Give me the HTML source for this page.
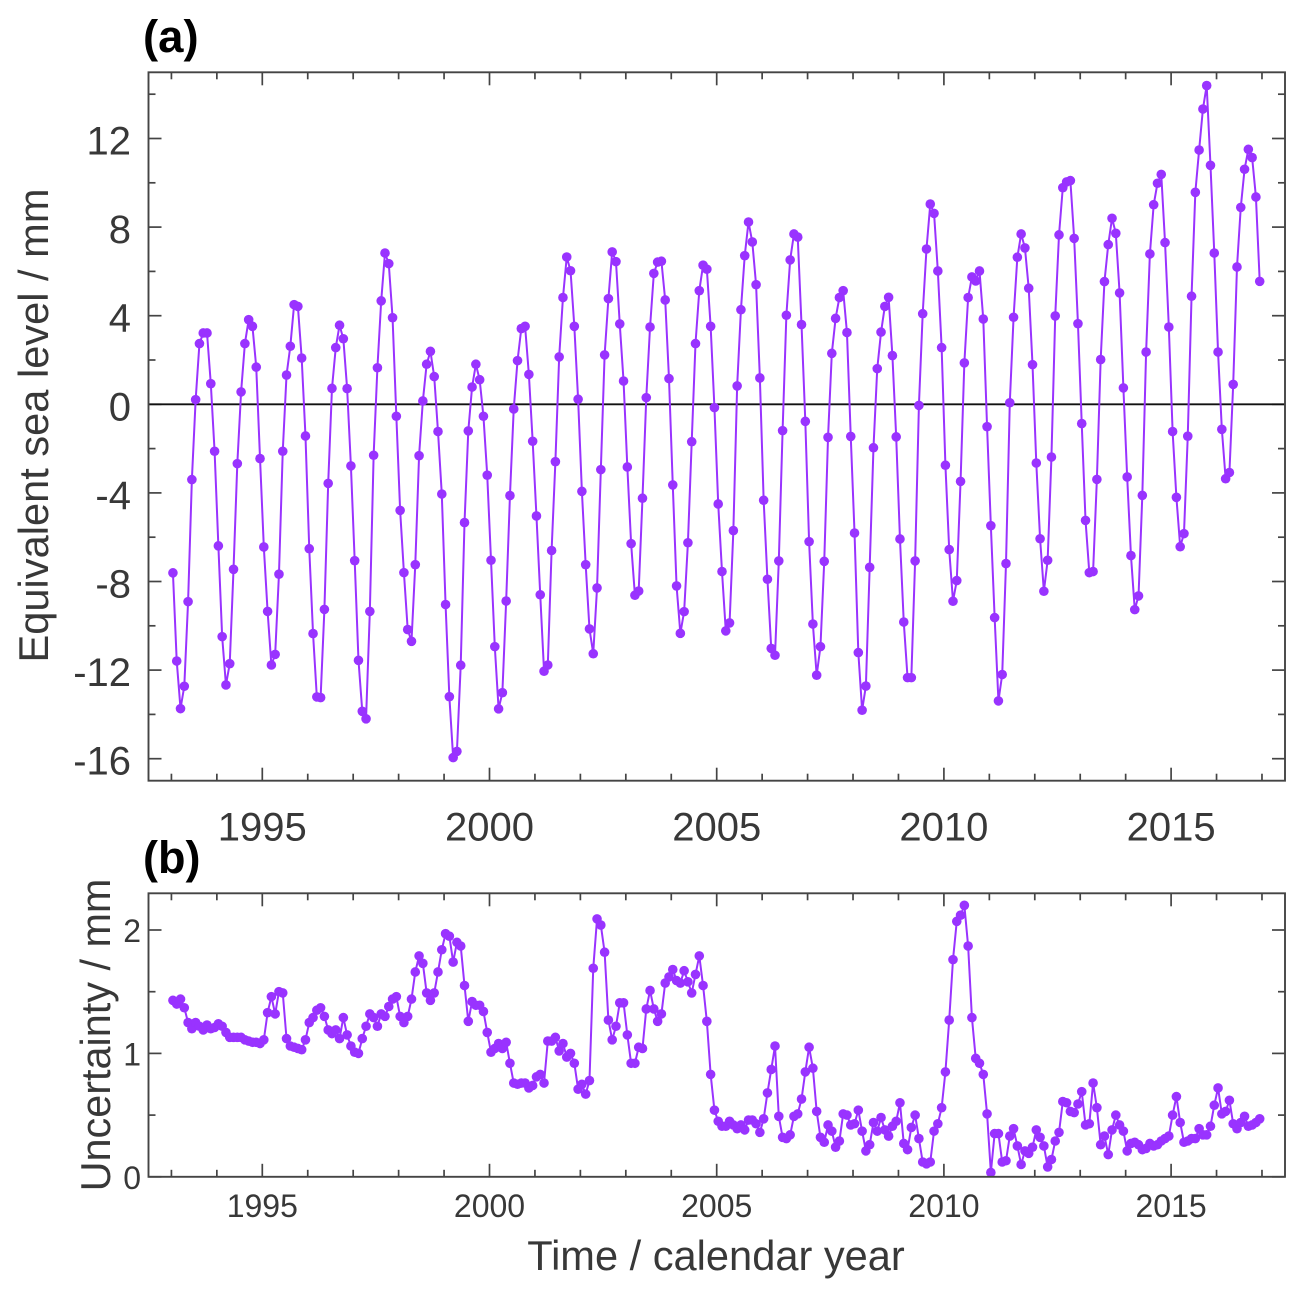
<!DOCTYPE html>
<html lang="en">
<head>
<meta charset="utf-8">
<title>Equivalent sea level and uncertainty</title>
<style>
html,body{margin:0;padding:0;background:#fff;width:1304px;height:1297px;overflow:hidden}
svg{display:block;font-family:"Liberation Sans",Arial,sans-serif}
</style>
</head>
<body>
<svg id="chart" width="1304" height="1297" viewBox="0 0 1304 1297" xmlns="http://www.w3.org/2000/svg">
  <rect width="1304" height="1297" fill="#fff"/>
  <text x="143" y="52" font-size="45.5" font-weight="bold" fill="#000">(a)</text>
  <text x="143" y="873" font-size="45" font-weight="bold" fill="#000">(b)</text>
  <text transform="translate(48,425.5) rotate(-90)" text-anchor="middle" font-size="41.6" fill="#383838">Equivalent sea level / mm</text>
  <text transform="translate(110,1035) rotate(-90)" text-anchor="middle" font-size="41.4" fill="#383838">Uncertainty / mm</text>
  <text x="716" y="1270" text-anchor="middle" font-size="41.6" fill="#383838">Time / calendar year</text>
  <g id="panel-a"></g>
  <g id="panel-b"></g>
</svg>
<script>
var startYear = 1993;
var monthsPerYear = 12;
var xMajorTicks = [1995, 2000, 2005, 2010, 2015];
var xMinorTicks = [1993, 1994, 1996, 1997, 1998, 1999, 2001, 2002, 2003, 2004, 2006, 2007, 2008, 2009, 2011, 2012, 2013, 2014, 2016, 2017];
var seaLevelYTicks = [12, 8, 4, 0, -4, -8, -12, -16];
var seaLevelYMinor = [14, 10, 6, 2, -2, -6, -10, -14];
var uncertaintyYTicks = [2, 1, 0];
var uncertaintyYMinor = [1.5, 0.5];

var seaLevel = [
-7.61,-11.59,-13.74,-12.73,-8.91,-3.4,0.21,2.74,3.22,3.22,0.93,-2.12,
-6.39,-10.49,-12.67,-11.71,-7.45,-2.68,0.56,2.74,3.82,3.52,1.68,-2.45,
-6.44,-9.35,-11.77,-11.29,-7.67,-2.12,1.32,2.62,4.5,4.42,2.09,-1.43,
-6.52,-10.35,-13.21,-13.24,-9.26,-3.57,0.72,2.56,3.57,2.96,0.71,-2.78,
-7.06,-11.56,-13.86,-14.2,-9.35,-2.3,1.65,4.67,6.83,6.35,3.91,-0.54,
-4.79,-7.6,-10.17,-10.7,-7.24,-2.32,0.15,1.81,2.39,1.25,-1.23,-4.05,
-9.04,-13.2,-15.95,-15.67,-11.78,-5.34,-1.2,0.78,1.81,1.11,-0.54,-3.2,
-7.04,-10.94,-13.75,-13.02,-8.88,-4.12,-0.21,1.97,3.42,3.52,1.35,-1.67,
-5.04,-8.6,-12.05,-11.77,-6.6,-2.59,2.14,4.82,6.65,6.03,3.52,0.23,
-3.93,-7.24,-10.14,-11.26,-8.29,-2.95,2.23,4.77,6.88,6.44,3.63,1.05,
-2.83,-6.29,-8.62,-8.43,-4.24,0.3,3.49,5.91,6.42,6.46,4.71,1.16,
-3.64,-8.2,-10.34,-9.36,-6.25,-1.69,2.74,5.13,6.28,6.1,3.52,-0.15,
-4.5,-7.55,-10.23,-9.87,-5.7,0.83,4.27,6.71,8.23,7.33,5.4,1.19,
-4.33,-7.9,-11.02,-11.33,-7.07,-1.19,4.02,6.52,7.69,7.55,3.6,-0.77,
-6.2,-9.92,-12.23,-10.94,-7.09,-1.49,2.3,3.88,4.82,5.13,3.24,-1.45,
-5.81,-11.21,-13.81,-12.72,-7.36,-1.96,1.61,3.26,4.42,4.83,2.2,-1.47,
-6.08,-9.83,-12.34,-12.34,-7.07,-0.05,4.09,7.01,9.04,8.62,6.02,2.56,
-2.75,-6.56,-8.89,-7.96,-3.48,1.87,4.82,5.75,5.57,6.02,3.85,-1.01,
-5.48,-9.63,-13.39,-12.2,-7.19,0.07,3.93,6.64,7.69,7.06,5.24,1.79,
-2.65,-6.07,-8.44,-7.04,-2.38,3.99,7.65,9.78,10.04,10.1,7.49,3.64,
-0.87,-5.24,-7.6,-7.55,-3.39,2.02,5.54,7.21,8.4,7.72,5.03,0.74,
-3.28,-6.83,-9.27,-8.65,-4.11,2.36,6.79,9.01,9.98,10.38,7.3,3.49,
-1.23,-4.2,-6.43,-5.84,-1.44,4.88,9.57,11.48,13.33,14.39,10.79,6.83,
2.36,-1.13,-3.36,-3.08,0.9,6.2,8.89,10.61,11.51,11.14,9.36,5.55
];

var uncertainty = [
1.43,1.40,1.44,1.37,1.25,1.20,1.25,1.22,1.19,1.23,1.20,1.21,
1.24,1.22,1.17,1.13,1.13,1.13,1.13,1.11,1.10,1.09,1.09,1.08,
1.11,1.33,1.46,1.32,1.50,1.49,1.12,1.06,1.05,1.04,1.03,1.11,
1.25,1.29,1.35,1.37,1.30,1.19,1.16,1.19,1.12,1.29,1.15,1.06,
1.01,1.00,1.12,1.22,1.32,1.29,1.22,1.32,1.30,1.38,1.44,1.46,
1.30,1.25,1.30,1.44,1.66,1.79,1.73,1.49,1.43,1.49,1.66,1.84,
1.97,1.95,1.74,1.90,1.87,1.55,1.26,1.42,1.39,1.39,1.34,1.17,
1.01,1.04,1.08,1.04,1.09,0.92,0.76,0.75,0.76,0.76,0.72,0.74,
0.81,0.83,0.76,1.10,1.10,1.13,1.02,1.08,0.97,1.00,0.92,0.71,
0.75,0.67,0.78,1.69,2.09,2.04,1.82,1.27,1.11,1.22,1.41,1.41,
1.15,0.92,0.92,1.05,1.04,1.36,1.51,1.36,1.26,1.32,1.57,1.62,
1.68,1.59,1.57,1.67,1.58,1.49,1.64,1.79,1.55,1.26,0.83,0.54,
0.45,0.41,0.41,0.45,0.42,0.39,0.42,0.38,0.46,0.46,0.43,0.36,
0.47,0.68,0.87,1.06,0.49,0.32,0.31,0.34,0.49,0.51,0.63,0.85,
1.05,0.88,0.53,0.32,0.28,0.42,0.37,0.24,0.29,0.51,0.50,0.42,
0.43,0.54,0.37,0.21,0.26,0.44,0.37,0.48,0.38,0.33,0.41,0.45,
0.60,0.27,0.22,0.40,0.50,0.31,0.12,0.105,0.12,0.37,0.43,0.56,
0.85,1.27,1.76,2.07,2.12,2.20,1.87,1.29,0.96,0.92,0.83,0.51,
0.035,0.35,0.35,0.12,0.13,0.33,0.39,0.25,0.10,0.21,0.19,0.24,
0.38,0.32,0.25,0.08,0.14,0.29,0.36,0.61,0.60,0.53,0.52,0.59,
0.69,0.42,0.43,0.76,0.56,0.26,0.33,0.18,0.38,0.50,0.42,0.37,
0.21,0.27,0.28,0.26,0.22,0.23,0.27,0.25,0.26,0.29,0.31,0.33,
0.50,0.65,0.44,0.28,0.29,0.31,0.31,0.39,0.34,0.34,0.41,0.58,
0.72,0.51,0.53,0.62,0.43,0.39,0.44,0.49,0.41,0.42,0.44,0.47
];

var NS = 'http://www.w3.org/2000/svg';
var AXIS_COLOR = '#444444';
var TEXT_COLOR = '#383838';
var SERIES_COLOR = '#9933ff';
var LEFT = 148.5, RIGHT = 1285;

function xScale(year) {
  return 262.3 + (year - 1995) * 45.44;
}
function yScaleA(v) {
  return 404.3 - v * 22.15;
}
function yScaleB(v) {
  return 1176.8 - v * 123.4;
}
function timeOf(i) {
  return startYear + (i + 0.4) / monthsPerYear;
}

function make(parent, tag, attrs) {
  var el = document.createElementNS(NS, tag);
  for (var k in attrs) el.setAttribute(k, attrs[k]);
  parent.appendChild(el);
  return el;
}

function tick(parent, name, x1, y1, x2, y2) {
  var el = make(parent, 'line', {x1: x1, y1: y1, x2: x2, y2: y2, stroke: AXIS_COLOR, 'stroke-width': 1.7});
  
  
}

function label(parent, name, x, y, txt, size, anchor) {
  var el = make(parent, 'text', {x: x, y: y, 'font-size': size, 'text-anchor': anchor, fill: TEXT_COLOR});
  el.textContent = txt;
  
  
}

function drawPanel(g, prefix, top, bottom, yScale, yTicks, yMinor, values, opts) {
  var MAJ = 13, MIN = 7;
  xMajorTicks.forEach(function (y) {
    var x = xScale(y);
    tick(g, prefix + '-x-major-tick-bottom', x, bottom, x, bottom - MAJ);
    tick(g, prefix + '-x-major-tick-top', x, top, x, top + MAJ);
    label(g, prefix + '-x-tick-label', x, bottom + opts.xLabelOffset, String(y), opts.fontSize, 'middle');
  });
  xMinorTicks.forEach(function (y) {
    var x = xScale(y);
    tick(g, prefix + '-x-minor-tick-bottom', x, bottom, x, bottom - MIN);
    tick(g, prefix + '-x-minor-tick-top', x, top, x, top + MIN);
  });
  yTicks.forEach(function (v) {
    var y = yScale(v);
    tick(g, prefix + '-y-major-tick-left', LEFT, y, LEFT + MAJ, y);
    tick(g, prefix + '-y-major-tick-right', RIGHT, y, RIGHT - MAJ, y);
    label(g, prefix + '-y-tick-label', opts.yLabelX, y + opts.yLabelOffset, String(v), opts.fontSize, 'end');
  });
  yMinor.forEach(function (v) {
    var y = yScale(v);
    tick(g, prefix + '-y-minor-tick-left', LEFT, y, LEFT + MIN, y);
    tick(g, prefix + '-y-minor-tick-right', RIGHT, y, RIGHT - MIN, y);
  });

  if (opts.zeroLine) {
    var zero = make(g, 'line', {x1: LEFT, x2: RIGHT, y1: yScale(0), y2: yScale(0), stroke: '#111', 'stroke-width': 1.8});
    
    
  }

  var pts = values.map(function (v, i) {
    return xScale(timeOf(i)).toFixed(2) + ',' + yScale(v).toFixed(2);
  }).join(' ');
  var line = make(g, 'polyline', {points: pts, fill: 'none', stroke: SERIES_COLOR, 'stroke-width': 2, 'stroke-linejoin': 'round'});
  
  

  values.forEach(function (v, i) {
    var c = make(g, 'circle', {cx: xScale(timeOf(i)).toFixed(2), cy: yScale(v).toFixed(2), r: 4.8, fill: SERIES_COLOR});
    
    
  });

  var frame = make(g, 'rect', {x: LEFT, y: top, width: RIGHT - LEFT, height: bottom - top, fill: 'none', stroke: AXIS_COLOR, 'stroke-width': 1.9});
  
  
}

drawPanel(document.getElementById('panel-a'), 'panel-a', 72.3, 780.7, yScaleA,
  seaLevelYTicks, seaLevelYMinor, seaLevel,
  {fontSize: 40, xLabelOffset: 60, yLabelX: 131, yLabelOffset: 16, zeroLine: true});
drawPanel(document.getElementById('panel-b'), 'panel-b', 893.3, 1176.8, yScaleB,
  uncertaintyYTicks, uncertaintyYMinor, uncertainty,
  {fontSize: 32, xLabelOffset: 40, yLabelX: 141, yLabelOffset: 12, zeroLine: false});
</script>
</body>
</html>
